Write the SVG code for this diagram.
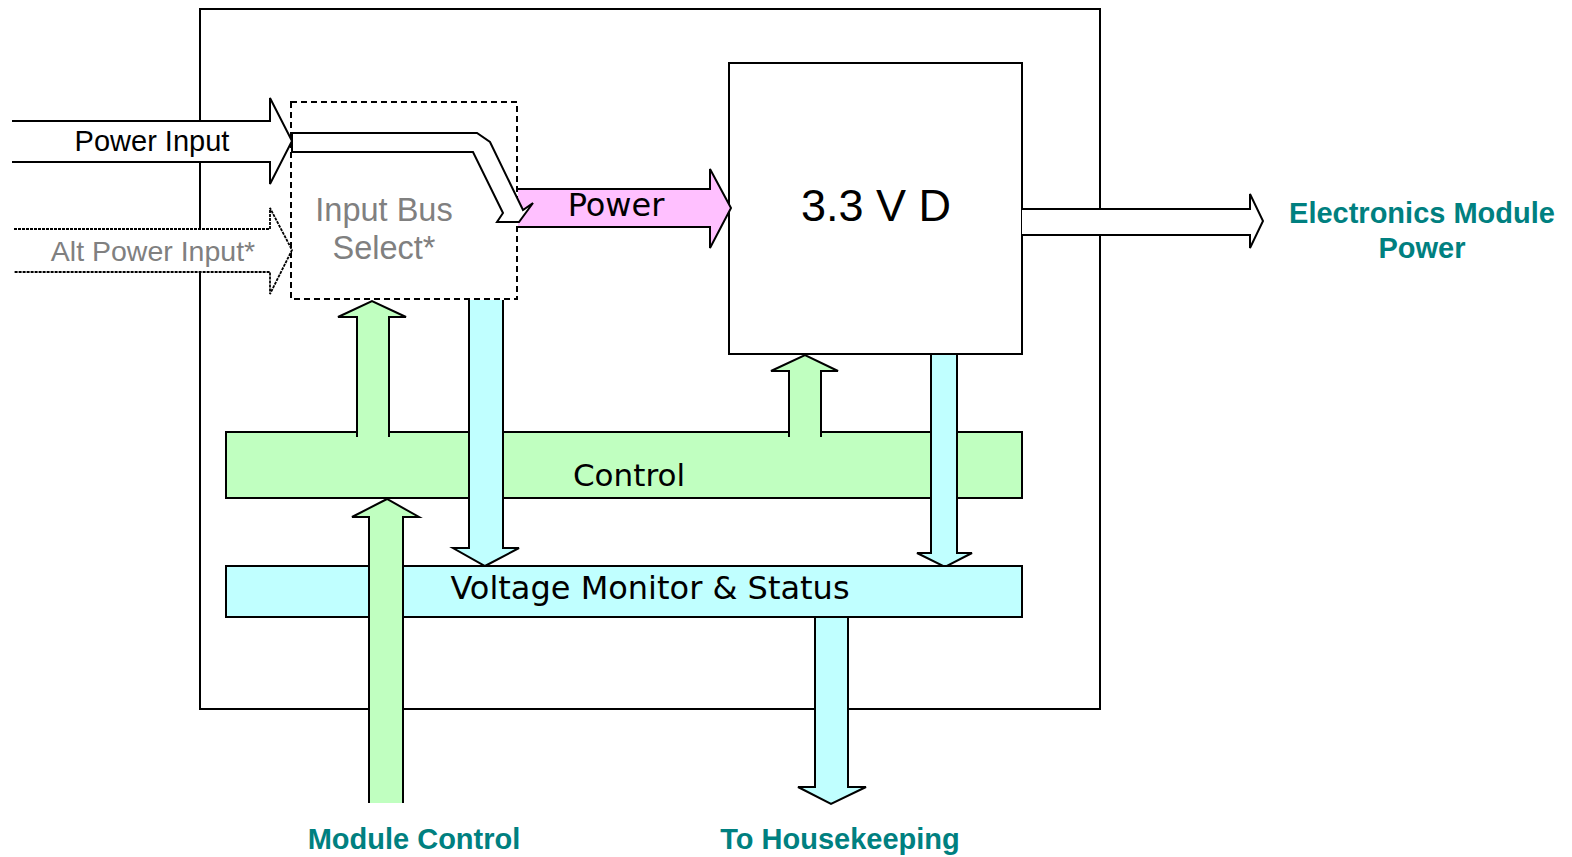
<svg xmlns="http://www.w3.org/2000/svg" width="1572" height="857" viewBox="0 0 1572 857">
<style>
.ln{stroke:#000;stroke-width:2;stroke-linejoin:miter}
.wh{fill:#fff}
.gr{fill:#C0FFC0}
.cy{fill:#C0FFFF}
.pk{fill:#FFC0FF}
.sans{font-family:"Liberation Sans",Arial,sans-serif}
.dv{font-family:"DejaVu Sans",Verdana,sans-serif}
.teal{fill:#008080;font-weight:bold;font-family:"Liberation Sans",Arial,sans-serif;font-size:29px}
</style>
<rect width="1572" height="857" fill="#fff"/>
<g id="module-box"><rect x="200" y="9" width="900" height="700" class="ln" fill="none"/></g>
<g id="regulator-3v3d">
<rect x="729" y="63" width="293" height="291" class="ln wh"/>
<text x="876" y="221" text-anchor="middle" class="sans" font-size="45">3.3 V D</text>
</g>
<g id="input-bus-select">
<rect x="291" y="102" width="226" height="197" class="wh" stroke="#000" stroke-width="2" stroke-dasharray="6,4"/>
<text x="384" y="221" text-anchor="middle" class="sans" font-size="32.5" fill="#808080">Input Bus</text>
<text x="384" y="259" text-anchor="middle" class="sans" font-size="32.5" fill="#808080">Select*</text>
</g>
<g id="control">
<rect x="226" y="432" width="796" height="66" class="ln gr"/>
<text x="629" y="486" text-anchor="middle" class="dv" font-size="31">Control</text>
</g>
<g id="connectors">
<polyline points="12,121 270,121 270,98 292,141 270,184 270,162 12,162" class="ln wh"/>
<text x="152" y="151" text-anchor="middle" class="sans" font-size="29">Power Input</text>
<polyline points="14,229 270,229 270,208 292,250 270,294 270,272 14,272" class="wh" stroke="#000" stroke-width="1.8" stroke-dasharray="3,1"/>
<text x="153" y="261" text-anchor="middle" class="sans" font-size="28.5" fill="#808080">Alt Power Input*</text>
<polyline points="518,189 710,189 710,169 731,208 710,248 710,227 518,227" class="ln pk"/>
<text x="616" y="216" text-anchor="middle" class="dv" font-size="32">Power</text>
<polygon points="292,133 477,133 490,142 523,210 533,203 519,222 497,222 503,213 473,152 292,152" class="ln wh"/>
<polyline points="1022,209 1250,209 1250,194 1263,221 1250,248 1250,235 1022,235" class="ln wh"/>
<polyline points="357,437 357,317 338,317 372,301 406,317 389,317 389,437" class="ln gr"/>
<polyline points="789,437 789,371 771,371 805,355 838,371 821,371 821,437" class="ln gr"/>
<polyline points="469,300 469,548 453,548 485,566 519,548 503,548 503,300" class="ln cy"/>
<polyline points="931,355 931,553 917,553 945,567 972,553 957,553 957,355" class="ln cy"/>
</g>
<g id="voltage-monitor">
<rect x="226" y="566" width="796" height="51" class="ln cy"/>
<text x="650" y="599" text-anchor="middle" class="dv" font-size="32">Voltage Monitor &amp; Status</text>
</g>
<g id="connectors-lower">
<polyline points="369,803 369,517 352,517 387,499 419,517 403,517 403,803" class="ln gr"/>
<polyline points="815,618 815,787 798,787 831,804 866,787 848,787 848,618" class="ln cy"/>
</g>
<g id="labels">
<text x="1422" y="223" text-anchor="middle" class="teal">Electronics Module</text>
<text x="1422" y="258" text-anchor="middle" class="teal">Power</text>
<text x="414" y="849" text-anchor="middle" class="teal">Module Control</text>
<text x="840" y="849" text-anchor="middle" class="teal">To Housekeeping</text>
</g>
</svg>
